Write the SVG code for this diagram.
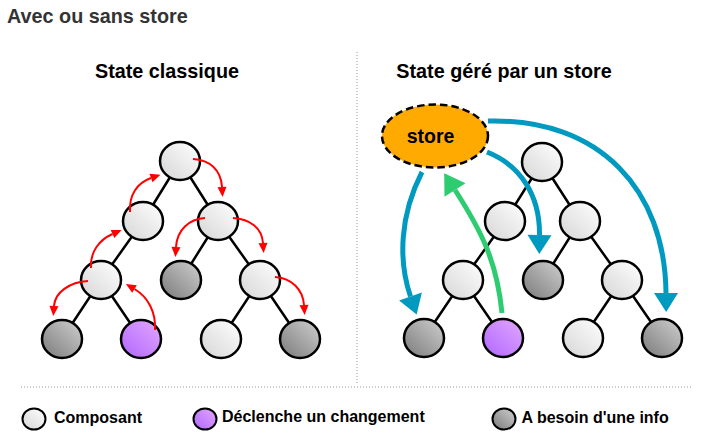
<svg xmlns="http://www.w3.org/2000/svg" width="716" height="448" viewBox="0 0 716 448">
  <defs>
    <linearGradient id="gLight" x1="1" y1="0" x2="0" y2="1">
      <stop offset="0" stop-color="#ffffff"/>
      <stop offset="1" stop-color="#d6d6d6"/>
    </linearGradient>
    <linearGradient id="gGray" x1="1" y1="0" x2="0" y2="1">
      <stop offset="0" stop-color="#d0d0d0"/>
      <stop offset="1" stop-color="#7a7a7a"/>
    </linearGradient>
    <linearGradient id="gPurple" x1="1" y1="0" x2="0" y2="1">
      <stop offset="0" stop-color="#e3a8ff"/>
      <stop offset="1" stop-color="#b066ff"/>
    </linearGradient>
    <marker id="mRed" markerUnits="userSpaceOnUse" markerWidth="12" markerHeight="12" refX="0" refY="5" orient="auto" overflow="visible">
      <path d="M0,0.5 L10,5 L0,9.5 z" fill="#ff0000"/>
    </marker>
    <marker id="mBlue" markerUnits="userSpaceOnUse" markerWidth="22" markerHeight="26" refX="0" refY="12" orient="auto" overflow="visible">
      <path d="M0,0 L19,12 L0,24 z" fill="#0099bf"/>
    </marker>
    <marker id="mGreen" markerUnits="userSpaceOnUse" markerWidth="22" markerHeight="26" refX="0" refY="12.5" orient="auto" overflow="visible">
      <path d="M0,0 L20,12.5 L0,25 z" fill="#2ecc71"/>
    </marker>
  </defs>
  <style>
    .t { font-family: "Liberation Sans", Arial, sans-serif; font-weight: bold; }
    .edge { stroke: #000; stroke-width: 2.5; fill: none; }
    .node { stroke: #000; stroke-width: 2.5; }
    .light { fill: url(#gLight); }
    .gray { fill: url(#gGray); }
    .purple { fill: url(#gPurple); }
    .red { stroke: #ff0000; stroke-width: 2; fill: none; marker-end: url(#mRed); }
    .blue { stroke: #0099bf; stroke-width: 5; fill: none; marker-end: url(#mBlue); }
    .green { stroke: #2ecc71; stroke-width: 5; fill: none; marker-end: url(#mGreen); }
    .div { stroke: #999; stroke-width: 1; stroke-dasharray: 1 2; fill: none; }
  </style>

  <text class="t" x="7" y="23.3" font-size="19.8" fill="#333">Avec ou sans store</text>
  <text class="t" x="167" y="77.5" font-size="19.8" text-anchor="middle" fill="#000">State classique</text>
  <text class="t" x="504" y="77.5" font-size="19.8" text-anchor="middle" fill="#000">State géré par un store</text>

  <g id="dividers">
    <path class="div" d="M357,52 V384"/>
    <path class="div" d="M21,387 H693"/>
  </g>

  <!-- tree edges -->
  <g id="connectors">
    <path class="edge" d="M180,161 L143,221 M180,161 L218,221 M143,221 L101,280 M218,221 L181,280 M218,221 L260,280 M101,280 L62,339 M101,280 L141,339 M260,280 L221,339 M260,280 L300,339"/>
    <path class="edge" d="M542,162 L505,221 M542,162 L580,221 M505,221 L463,280 M580,221 L543,280 M580,221 L622,280 M463,280 L424,338 M463,280 L503,338 M622,280 L583,338 M622,280 L662,338"/>
  </g>

  <!-- left tree nodes -->
  <g id="l-root"><ellipse class="node light" cx="180" cy="161" rx="20" ry="19"/></g>
  <g id="l-a"><ellipse class="node light" cx="143" cy="221" rx="20" ry="19"/></g>
  <g id="l-b"><ellipse class="node light" cx="218" cy="221" rx="20" ry="19"/></g>
  <g id="l-c"><ellipse class="node light" cx="101" cy="280" rx="20" ry="19"/></g>
  <g id="l-d"><ellipse class="node gray" cx="181" cy="280" rx="20" ry="19"/></g>
  <g id="l-e"><ellipse class="node light" cx="260" cy="280" rx="20" ry="19"/></g>
  <g id="l-f"><ellipse class="node gray" cx="62" cy="339" rx="20" ry="19"/></g>
  <g id="l-g"><ellipse class="node purple" cx="141" cy="339" rx="20" ry="19"/></g>
  <g id="l-h"><ellipse class="node light" cx="221" cy="339" rx="20" ry="19"/></g>
  <g id="l-i"><ellipse class="node gray" cx="300" cy="339" rx="20" ry="19"/></g>

  <!-- right tree nodes -->
  <g id="r-root"><ellipse class="node light" cx="542" cy="162" rx="20" ry="19"/></g>
  <g id="r-a"><ellipse class="node light" cx="505" cy="221" rx="20" ry="19"/></g>
  <g id="r-b"><ellipse class="node light" cx="580" cy="221" rx="20" ry="19"/></g>
  <g id="r-c"><ellipse class="node light" cx="463" cy="280" rx="20" ry="19"/></g>
  <g id="r-d"><ellipse class="node gray" cx="543" cy="280" rx="20" ry="19"/></g>
  <g id="r-e"><ellipse class="node light" cx="622" cy="280" rx="20" ry="19"/></g>
  <g id="r-f"><ellipse class="node gray" cx="424" cy="338" rx="20" ry="19"/></g>
  <g id="r-g"><ellipse class="node purple" cx="503" cy="338" rx="20" ry="19"/></g>
  <g id="r-h"><ellipse class="node light" cx="583" cy="338" rx="20" ry="19"/></g>
  <g id="r-i"><ellipse class="node gray" cx="662" cy="338" rx="20" ry="19"/></g>

  <!-- store -->
  <g id="store">
    <ellipse cx="435" cy="136" rx="53" ry="31.5" fill="#ffaa00" stroke="#000" stroke-width="2.5" stroke-dasharray="7.5 4"/>
    <text class="t" x="430.5" y="143.3" font-size="19.5" text-anchor="middle" fill="#000">store</text>
  </g>

  <!-- red propagation arrows -->
  <g id="red-arrows">
    <path class="red" d="M193,159 C210,160 221,170 222,187"/>
    <path class="red" d="M130,212 C129,195 137,183 151,178"/>
    <path class="red" d="M91,268 C90,252 99,240 112.5,234"/>
    <path class="red" d="M88,281 C70,282 55,292 54,306"/>
    <path class="red" d="M155,330 C156,312 148,297 134.5,289"/>
    <path class="red" d="M205,218 C189,219 177,230 176,247"/>
    <path class="red" d="M233,218 C250,219 262,228 263,243"/>
    <path class="red" d="M275,277 C292,278 303,290 304,305"/>
  </g>

  <!-- store arrows -->
  <g id="store-arrows">
    <path class="blue" d="M422,172 C400,215 398,260 410.5,296.5"/>
    <path class="blue" d="M487,152 C520,165 540,195 539.5,235"/>
    <path class="blue" d="M488,121 C600,118 665,190 666,293"/>
    <path class="green" d="M502,313 C497,262 482,232 455,190"/>
  </g>

  <!-- legend -->
  <g id="legend">
    <g id="leg-composant">
      <ellipse cx="34" cy="419" rx="11.5" ry="10.5" fill="url(#gLight)" stroke="#000" stroke-width="2"/>
      <text class="t" x="54" y="423" font-size="16" fill="#000">Composant</text>
    </g>
    <g id="leg-declenche">
      <ellipse cx="205" cy="419" rx="11.5" ry="10.5" fill="url(#gPurple)" stroke="#000" stroke-width="2"/>
      <text class="t" x="222" y="421.5" font-size="16" fill="#000">Déclenche un changement</text>
    </g>
    <g id="leg-besoin">
      <ellipse cx="504" cy="419" rx="11.5" ry="10.5" fill="url(#gGray)" stroke="#000" stroke-width="2"/>
      <text class="t" x="521.5" y="423" font-size="16" fill="#000">A besoin d'une info</text>
    </g>
  </g>
</svg>
